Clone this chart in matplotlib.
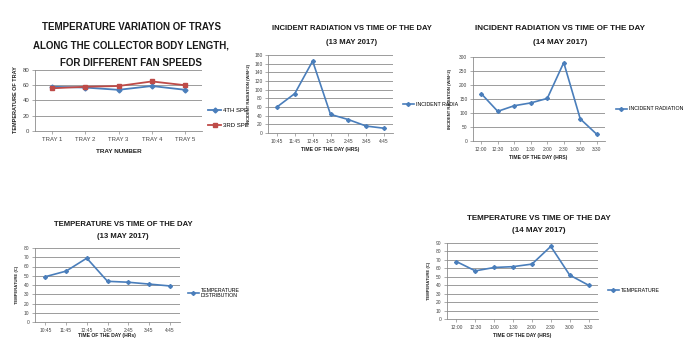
import matplotlib
matplotlib.use("Agg")
import matplotlib.pyplot as plt

plt.rcParams["font.family"] = ["Liberation Sans", "DejaVu Sans"]

W, H = 697, 356
BLUE = "#4a7ebb"
RED = "#be4b48"
GRID = "#8c8c8c"

# tray chart
trays = ["TRAY 1", "TRAY 2", "TRAY 3", "TRAY 4", "TRAY 5"]
speed4 = [58, 57, 54, 59, 54]
speed3 = [56, 58, 59, 65, 60]

# radiation / temperature 13 May
times_13 = ["10:45", "11:45", "12:45", "1:45", "2:45", "3:45", "4:45"]
rad_13 = [60, 91, 166, 43, 31, 16, 11]
temp_13 = [49, 55, 69, 44, 43, 41, 39]

# radiation / temperature 14 May
times_14 = ["12:00", "12:30", "1:00", "1:30", "2:00", "2:30", "3:00", "3:30"]
rad_14 = [169, 106, 126, 136, 152, 280, 79, 24]
temp_14 = [68, 57, 61, 62, 65, 86, 52, 40]


def rect(x0, y0, x1, y1):
    return [x0 / W, 1 - y1 / H, (x1 - x0) / W, (y1 - y0) / H]


def px(x, y):
    return x / W, 1 - y / H


fig = plt.figure(figsize=(W / 100, H / 100), dpi=100)
fig.patch.set_facecolor("white")


def style_axes(ax, ymax, ystep, cats, size=3.8):
    ax.set_ylim(0, ymax)
    ax.set_yticks(range(0, ymax + 1, ystep))
    ax.set_xlim(-0.5, len(cats) - 0.5)
    ax.set_xticks(range(len(cats)))
    ax.set_xticklabels(cats)
    ax.grid(axis="y", color=GRID, linewidth=0.6)
    ax.set_axisbelow(True)
    for s in ["top", "right"]:
        ax.spines[s].set_visible(False)
    for s in ["left", "bottom"]:
        ax.spines[s].set_color(GRID)
        ax.spines[s].set_linewidth(0.6)
    ax.tick_params(labelsize=size, length=2, width=0.5, color=GRID, pad=2, labelcolor="#444444")


def title(lines, x, ys, size):
    for t, y in zip(lines, ys):
        fx, fy = px(x, y)
        fig.text(fx, fy, t, ha="center", va="center", fontsize=size, fontweight="bold", color="#1a1a1a")


def label(text, x, y, rot=0, size=3.6):
    fx, fy = px(x, y)
    fig.text(fx, fy, text, ha="center", va="center", rotation=rot, fontsize=size,
             fontweight="bold", color="#222222")


def add_legend(ax, handles, x, y, **kw):
    ax.legend(handles=handles, loc="center left", bbox_to_anchor=(x / W, 1 - y / H),
              bbox_transform=fig.transFigure, frameon=False, handlelength=2.2,
              handletextpad=0.3, borderpad=0, **kw)


# chart 1
ax1 = fig.add_axes(rect(35, 70, 202, 131))
style_axes(ax1, 80, 20, trays, size=4.3)
l4, = ax1.plot(range(5), speed4, color=BLUE, marker="D", ms=2.5, lw=1.3, label="4TH SPE")
l3, = ax1.plot(range(5), speed3, color=RED, marker="s", ms=3, lw=1.3, label="3RD SPE")
add_legend(ax1, [l4, l3], 205, 118, fontsize=4.3, labelspacing=1.6)
title(["TEMPERATURE VARIATION OF TRAYS", "ALONG THE COLLECTOR BODY LENGTH,",
       "FOR DIFFERENT FAN SPEEDS"], 131, [27, 45, 63], 7.0)
label("TEMPERATURE OF TRAY", 16, 100, rot=90, size=4.0)
label("TRAY NUMBER", 119, 152, size=4.6)

# chart 2
ax2 = fig.add_axes(rect(268, 55, 393, 133))
style_axes(ax2, 180, 20, times_13, size=3.5)
l, = ax2.plot(range(7), rad_13, color=BLUE, marker="D", ms=2, lw=1.2, label="INCIDENT RADIA")
add_legend(ax2, [l], 400, 104, fontsize=3.8)
title(["INCIDENT RADIATION VS TIME OF THE DAY", "(13 MAY 2017)"], 352, [29, 43], 5.5)
label("INCIDENT RADIATION (W/M^2)", 249, 94, rot=90, size=3.0)
label("TIME OF THE DAY (HRS)", 330, 149, size=3.6)

# chart 3
ax3 = fig.add_axes(rect(473, 57, 605, 141))
style_axes(ax3, 300, 50, times_14, size=3.5)
l, = ax3.plot(range(8), rad_14, color=BLUE, marker="D", ms=2, lw=1.2, label="INCIDENT RADIATION")
add_legend(ax3, [l], 613, 109, fontsize=3.8)
title(["INCIDENT RADIATION VS TIME OF THE DAY", "(14 MAY 2017)"], 560, [29, 43], 5.9)
label("INCIDENT RADIATION (W/M^2)", 450, 99, rot=90, size=3.0)
label("TIME OF THE DAY (HRS)", 538, 157, size=3.6)

# chart 4
ax4 = fig.add_axes(rect(35, 248, 180, 322))
style_axes(ax4, 80, 10, times_13, size=3.5)
l, = ax4.plot(range(7), temp_13, color=BLUE, marker="D", ms=2, lw=1.2,
              label="TEMPERATURE\nDISTRIBUTION")
add_legend(ax4, [l], 185, 293, fontsize=3.8)
title(["TEMPERATURE VS TIME OF THE DAY", "(13 MAY 2017)"], 123, [224, 236], 5.6)
label("TEMPERATURE (C)", 17, 285, rot=90, size=3.0)
label("TIME OF THE DAY (HRs)", 107, 336, size=3.6)

# chart 5
ax5 = fig.add_axes(rect(447, 243, 598, 319))
style_axes(ax5, 90, 10, times_14, size=3.5)
l, = ax5.plot(range(8), temp_14, color=BLUE, marker="D", ms=2, lw=1.2, label="TEMPERATURE")
add_legend(ax5, [l], 605, 290, fontsize=3.8)
title(["TEMPERATURE VS TIME OF THE DAY", "(14 MAY 2017)"], 539, [218, 231], 5.8)
label("TEMPERATURE (C)", 429, 281, rot=90, size=3.0)
label("TIME OF THE DAY (HRS)", 522, 336, size=3.6)

fig.savefig("out.png", dpi=100, facecolor="white")
